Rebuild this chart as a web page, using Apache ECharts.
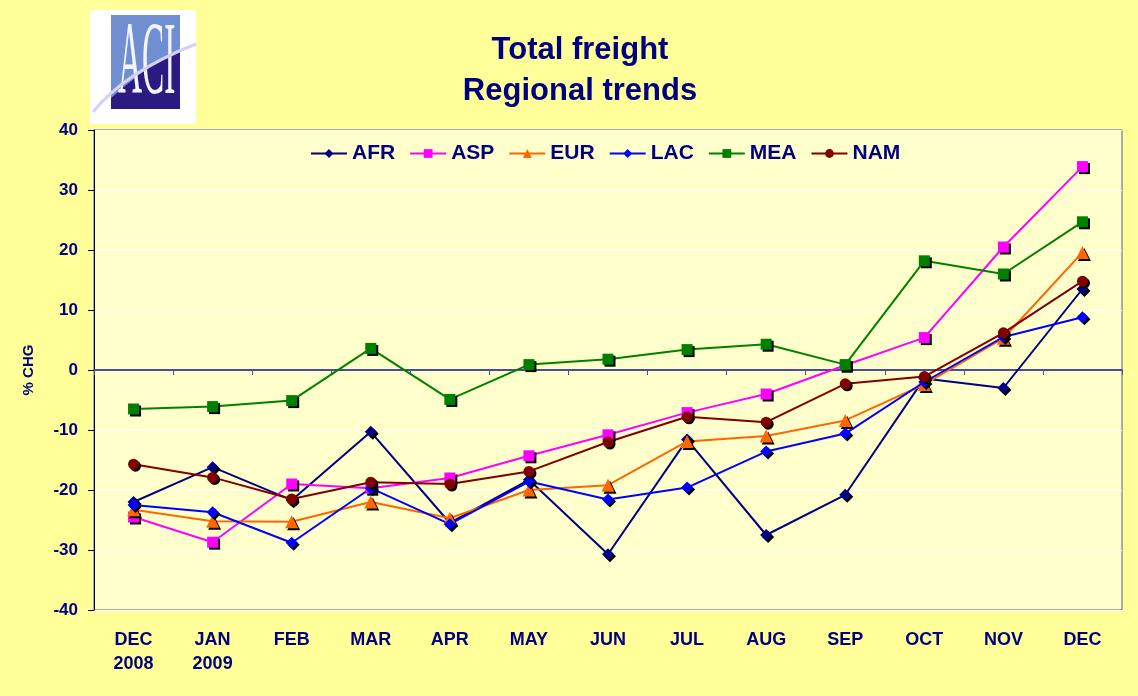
<!DOCTYPE html>
<html>
<head>
<meta charset="utf-8">
<script src="https://cdn.jsdelivr.net/npm/echarts@6/dist/echarts.min.js"></script>
<style>
  html, body { margin: 0; padding: 0; background: #ffff99; }
  #chart { width: 1138px; height: 696px; }
</style>
</head>
<body>
<div id="chart"></div>
<script>
const months = ['DEC\n2008', 'JAN\n2009', 'FEB', 'MAR', 'APR', 'MAY', 'JUN', 'JUL', 'AUG', 'SEP', 'OCT', 'NOV', 'DEC']
const yTicks = [-40, -30, -20, -10, 0, 10, 20, 30, 40]

const afr = [-22, -16.2, -21.7, -10.3, -25.5, -18.3, -30.7, -11.6, -27.5, -20.8, -1.4, -3.0, 13.5]
const asp = [-24.5, -28.7, -19.0, -19.7, -18.0, -14.3, -10.8, -7.1, -4.0, 0.8, 5.4, 20.5, 33.9]
const eur = [-23.3, -25.2, -25.3, -22.0, -24.7, -20.0, -19.2, -11.9, -11.0, -8.4, -2.4, 5.3, 19.6]
const lac = [-22.5, -23.7, -28.8, -19.7, -25.7, -18.6, -21.6, -19.6, -13.6, -10.6, -2.0, 5.5, 8.8]
const mea = [-6.5, -6.1, -5.1, 3.6, -4.9, 0.9, 1.8, 3.4, 4.3, 0.9, 18.2, 16.0, 24.7]
const nam = [-15.7, -17.9, -21.5, -18.7, -19.0, -16.9, -12.0, -7.8, -8.7, -2.3, -1.1, 6.2, 14.8]

const navy = '#000080'
const font = 'Arial, "Liberation Sans", sans-serif'

function line (name, data, color, symbol, size) {
  return {
    name: name,
    type: 'line',
    data: data,
    symbol: symbol,
    symbolSize: size,
    color: color,
    lineStyle: { color: color, width: 2 },
    itemStyle: {
      color: color,
      shadowColor: '#000',
      shadowOffsetX: 2,
      shadowOffsetY: 2,
      shadowBlur: 0
    },
    emphasis: { disabled: true },
    animation: false
  }
}

const chart = echarts.init(document.getElementById('chart'))
chart.setOption({
  backgroundColor: '#ffff99',
  textStyle: { fontFamily: font },
  title: {
    text: 'Total freight\nRegional trends',
    left: 575,
    textAlign: 'center',
    top: 25,
    textStyle: { color: navy, fontSize: 31, fontWeight: 'bold', lineHeight: 41, fontFamily: font }
  },
  legend: {
    top: 138,
    left: 305,
    itemWidth: 36,
    itemHeight: 11,
    itemGap: 14,
    textStyle: { color: navy, fontSize: 21, fontWeight: 'bold', fontFamily: font },
    data: ['AFR', 'ASP', 'EUR', 'LAC', 'MEA', 'NAM']
  },
  grid: {
    left: 94,
    right: 16,
    top: 130,
    bottom: 86,
    show: true,
    backgroundColor: '#ffffcc',
    borderColor: '#5a5a8c',
    borderWidth: 1
  },
  xAxis: [{
    type: 'category',
    data: months,
    boundaryGap: true,
    axisLine: { onZero: true, lineStyle: { color: '#4b4b9a', width: 2 } },
    axisTick: { show: true, length: 5, lineStyle: { color: '#4b4b9a' } },
    axisLabel: { show: false },
    splitLine: { show: false }
  }, {
    type: 'category',
    data: months,
    position: 'bottom',
    axisLine: { show: false },
    axisTick: { show: false },
    axisLabel: { color: navy, fontSize: 18, fontWeight: 'bold', lineHeight: 24, margin: 18, interval: 0 }
  }],
  yAxis: {
    type: 'value',
    min: -40,
    max: 40,
    interval: 10,
    name: '% CHG',
    nameLocation: 'middle',
    nameGap: 58,
    nameTextStyle: { color: navy, fontSize: 15, fontWeight: 'bold' },
    axisLine: { show: true, onZero: false, lineStyle: { color: '#000', width: 1 } },
    axisTick: { show: true, length: 6, lineStyle: { color: '#000' } },
    axisLabel: {
      color: navy,
      fontSize: 17,
      fontWeight: 'bold',
      margin: 16,
      formatter: function (v) { return yTicks.indexOf(v) >= 0 ? String(v) : '' }
    },
    splitLine: { show: true, lineStyle: { color: '#ffffff', width: 1 } }
  },
  series: [
    line('AFR', afr, '#000080', 'diamond', 12),
    line('ASP', asp, '#ff00ff', 'rect', 11),
    line('EUR', eur, '#ff6600', 'triangle', 13),
    line('LAC', lac, '#0000ff', 'diamond', 12),
    line('MEA', mea, '#008000', 'rect', 11),
    line('NAM', nam, '#800000', 'circle', 11)
  ],
  graphic: [
    // ACI logo
    { type: 'rect', shape: { x: 90, y: 10, width: 106, height: 114 }, style: { fill: '#ffffff' } },
    { type: 'rect', shape: { x: 111, y: 15, width: 69, height: 94 }, style: { fill: '#6f8fd2' } },
    {
      type: 'polygon',
      shape: { points: [[111, 98], [125, 86], [140, 74], [158, 62], [180, 52], [180, 109], [111, 109]] },
      style: { fill: '#2b1a80' }
    },
    {
      type: 'text',
      x: 118,
      y: 14,
      scaleX: 0.32,
      style: { text: 'ACI', fill: '#f4f4ff', font: '104px "Liberation Serif", serif' }
    },
    {
      type: 'bezierCurve',
      shape: { x1: 93, y1: 112, cpx1: 125, cpy1: 72, x2: 196, y2: 44 },
      style: { stroke: '#d8d0f0', lineWidth: 3, fill: null }
    }
  ]
})
</script>
</body>
</html>
